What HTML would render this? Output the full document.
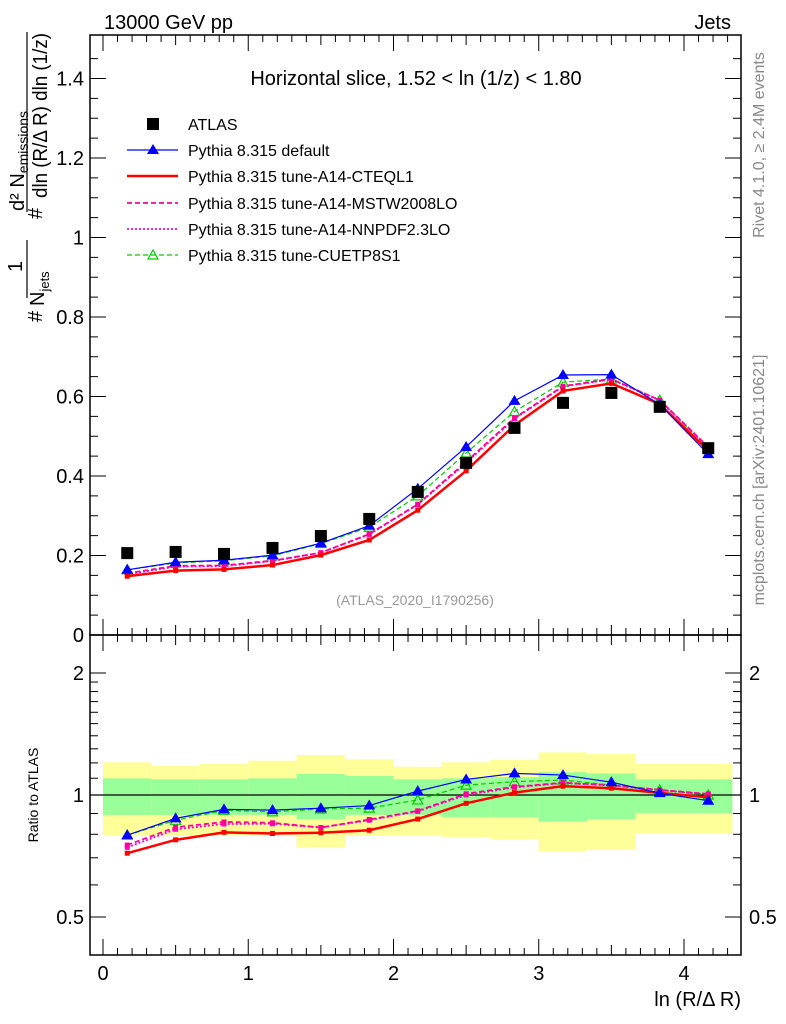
<!DOCTYPE html>
<html><head><meta charset="utf-8"><style>
body{margin:0;background:#fff;}
svg{display:block;font-family:"Liberation Sans",sans-serif;}
</style></head><body>
<svg id="c" width="786" height="1024" viewBox="0 0 786 1024">
<g id="bands"></g>
<g id="marks"></g>
<g id="axes"></g>
<text x="104" y="29" font-size="20">13000 GeV pp</text>
<text x="731" y="29" font-size="20" text-anchor="end">Jets</text>
<text x="416" y="85" font-size="20" text-anchor="middle">Horizontal slice, 1.52 &lt; ln (1/z) &lt; 1.80</text>
<text x="415" y="605" font-size="14" fill="#999" text-anchor="middle">(ATLAS_2020_I1790256)</text>
<text transform="translate(764,145) rotate(-90)" font-size="16" fill="#888" text-anchor="middle">Rivet 4.1.0, ≥ 2.4M events</text>
<text transform="translate(764,480) rotate(-90)" font-size="16" fill="#888" text-anchor="middle">mcplots.cern.ch [arXiv:2401.10621]</text>
<g>
<text transform="translate(42,322) rotate(-90)" font-size="20">#</text>
<text transform="translate(22,272) rotate(-90)" font-size="20">1</text>
<line x1="27" y1="240" x2="27" y2="298" stroke="#000" stroke-width="1.2"/>
<text transform="translate(44,306) rotate(-90)" font-size="20">N<tspan font-size="13" dy="5">jets</tspan></text>
<text transform="translate(42,219) rotate(-90)" font-size="20">#</text>
<text transform="translate(24,211) rotate(-90)" font-size="20">d² N<tspan font-size="14" dy="4">emissions</tspan></text>
<line x1="27" y1="32" x2="27" y2="212" stroke="#000" stroke-width="1.2"/>
<text transform="translate(47,198) rotate(-90)" font-size="20" textLength="165" lengthAdjust="spacingAndGlyphs">dln (R/Δ R) dln (1/z)</text>
</g>
<text transform="translate(38,795) rotate(-90)" font-size="14" text-anchor="middle">Ratio to ATLAS</text>
<text x="741" y="1006" font-size="20" text-anchor="end">ln (R/Δ R)</text>
<g id="legend"></g>
</svg>
<script>
const xCenters=[0.167,0.5,0.833,1.167,1.5,1.833,2.167,2.5,2.833,3.167,3.5,3.833,4.167];
const binEdges=[0,0.333,0.667,1,1.333,1.667,2,2.333,2.667,3,3.333,3.667,4,4.333];
const atlas=[0.206,0.209,0.204,0.219,0.249,0.292,0.36,0.433,0.521,0.584,0.609,0.574,0.47];
const pyDefault=[0.164,0.183,0.188,0.201,0.231,0.275,0.368,0.473,0.589,0.654,0.655,0.580,0.455];
const pyCteq=[0.148,0.162,0.165,0.176,0.201,0.239,0.314,0.413,0.528,0.614,0.633,0.581,0.464];
const pyMstw=[0.155,0.174,0.175,0.187,0.207,0.254,0.329,0.436,0.546,0.626,0.644,0.591,0.473];
const pyNnpdf=[0.153,0.172,0.173,0.186,0.207,0.253,0.328,0.433,0.544,0.625,0.643,0.590,0.472];
const pyCuetp=[0.164,0.181,0.187,0.199,0.230,0.271,0.350,0.458,0.562,0.636,0.644,0.591,0.470];
const yellowHi=[1.204,1.179,1.193,1.215,1.255,1.225,1.174,1.204,1.22,1.274,1.262,1.193,1.193];
const yellowLo=[0.794,0.794,0.794,0.794,0.743,0.794,0.794,0.786,0.777,0.725,0.732,0.804,0.804];
const greenHi=[1.099,1.093,1.093,1.099,1.127,1.114,1.093,1.099,1.106,1.138,1.131,1.093,1.093];
const greenLo=[0.893,0.893,0.893,0.893,0.871,0.893,0.893,0.881,0.881,0.859,0.871,0.901,0.901];
const mainTicks=[0,0.2,0.4,0.6,0.8,1,1.2,1.4];
const mainTickLabels=["0","0.2","0.4","0.6","0.8","1","1.2","1.4"];
const ratioTicks=[0.5,1,2];
const ratioTickLabels=["0.5","1","2"];
const xTicks=[0,1,2,3,4];
const xTickLabels=["0","1","2","3","4"];

const NS="http://www.w3.org/2000/svg";
const L=90,R=741,T=35,MB=635,RB=955;
const X=v=>103+v*145.25;
const Y=v=>635-v*397.5;
const YR=v=>795-Math.log2(v)*122;
function mk(tag,attrs,parent){const e=document.createElementNS(NS,tag);for(const k in attrs)e.setAttribute(k,attrs[k]);parent.appendChild(e);return e;}
const bands=document.getElementById('bands'),marks=document.getElementById('marks'),axes=document.getElementById('axes'),legend=document.getElementById('legend');

for(let i=0;i<xCenters.length;i++){
  const x0=X(binEdges[i]),x1=X(binEdges[i+1]);
  const yb=mk('rect',{x:x0,y:YR(yellowHi[i]),width:x1-x0,height:YR(yellowLo[i])-YR(yellowHi[i]),fill:'#ffff99'},bands);
  
  
  const gb=mk('rect',{x:x0,y:YR(greenHi[i]),width:x1-x0,height:YR(greenLo[i])-YR(greenHi[i]),fill:'#99ff99'},bands);
  
  
}
const one=mk('line',{x1:L,x2:R,y1:YR(1),y2:YR(1),stroke:'#000','stroke-width':1.2},bands);



const series=[
 {d:pyCuetp,c:'#00cc00',w:1.2,dash:'5,3',m:'otri',name:'Pythia 8.315 tune-CUETP8S1',id:'series-cuetp8s1'},
 {d:pyNnpdf,c:'#ff00cc',w:1.8,dash:'2,2',m:'sq',name:'Pythia 8.315 tune-A14-NNPDF2.3LO',id:'series-nnpdf'},
 {d:pyMstw,c:'#ff0099',w:1.8,dash:'5,3',m:'sq',name:'Pythia 8.315 tune-A14-MSTW2008LO',id:'series-mstw'},
 {d:pyCteq,c:'#ff0000',w:2.5,dash:'',m:'sq',name:'Pythia 8.315 tune-A14-CTEQL1',id:'series-cteql1'},
 {d:pyDefault,c:'#0000ff',w:1.2,dash:'',m:'tri',name:'Pythia 8.315 default',id:'series-default'}
];
function marker(type,x,y,c,g){
  let e;
  if(type==='tri') e=mk('polygon',{points:`${x},${y-6} ${x-6},${y+4} ${x+6},${y+4}`,fill:c},g);
  else if(type==='otri') e=mk('polygon',{points:`${x},${y-5} ${x-5},${y+4} ${x+5},${y+4}`,fill:'none',stroke:c,'stroke-width':1.2},g);
  else if(type==='big') e=mk('rect',{x:x-6,y:y-6,width:12,height:12,fill:c},g);
  else e=mk('rect',{x:x-2.5,y:y-2.5,width:5,height:5,fill:c},g);
  
  
}
for(const s of series){
  const g=mk('g',{},marks);
  
  
  const pm=s.d.map((v,i)=>X(xCenters[i])+','+Y(v)).join(' ');
  const pr=s.d.map((v,i)=>X(xCenters[i])+','+YR(v/atlas[i])).join(' ');
  for(const p of [pm,pr]){
    const l=mk('polyline',{points:p,fill:'none',stroke:s.c,'stroke-width':s.w,'stroke-dasharray':s.dash},g);
    
    
  }
  s.d.forEach((v,i)=>{marker(s.m,X(xCenters[i]),Y(v),s.c,g);marker(s.m,X(xCenters[i]),YR(v/atlas[i]),s.c,g);});
}
const ga=mk('g',{},marks);


atlas.forEach((v,i)=>marker('big',X(xCenters[i]),Y(v),'#000',ga));

for(const [t,b] of [[T,MB],[MB,RB]]){
  const f=mk('rect',{x:L,y:t,width:R-L,height:b-t,fill:'none',stroke:'#000','stroke-width':1.5},axes);
  
  
}
function tick(x1,y1,x2,y2){const e=mk('line',{x1,y1,x2,y2,stroke:'#000','stroke-width':1},axes);}
function label(x,y,txt,anchor,size,nm){const e=mk('text',{x,y,'text-anchor':anchor,'font-size':size},axes);e.textContent=txt;}
for(let v=0;v<=1.5;v+=0.05){const y=Y(v);if(y<T)break;const maj=Math.abs(v/0.2-Math.round(v/0.2))<1e-6;tick(L,y,L+(maj?16:8),y);tick(R,y,R-(maj?16:8),y);}
mainTicks.forEach((v,i)=>label(L-6,Y(v)+7,mainTickLabels[i],'end',20,'y-tick-label'));
for(let k=0.4;k<2.5;k+=(k<1-1e-9?0.1:1)){const y=YR(k);if(y<MB||y>RB)continue;const maj=ratioTicks.some(t=>Math.abs(t-k)<1e-6);tick(L,y,L+(maj?16:8),y);tick(R,y,R-(maj?16:8),y);}
for(let k=1.1;k<2;k+=0.1){const y=YR(k);tick(L,y,L+8,y);tick(R,y,R-8,y);}
ratioTicks.forEach((v,i)=>{label(L-6,YR(v)+7,ratioTickLabels[i],'end',20,'ratio-tick-label');label(R+8,YR(v)+7,ratioTickLabels[i],'start',20,'ratio-tick-label-right');});
for(let k=0;k<=44;k++){const v=k/10;const x=X(v);if(x>R)break;const maj=k%10===0;const h=maj?16:(k%5===0?10:7);tick(x,RB,x,RB-h);tick(x,MB,x,MB-h);tick(x,T,x,T+h);tick(x,MB,x,MB+h);}
xTicks.forEach((v,i)=>label(X(v),RB+25,xTickLabels[i],'middle',20,'x-tick-label'));

const ly=[124,150,176,203,229,255];
const lg0=mk('g',{},legend);


marker('big',153,ly[0],'#000',lg0);
const t0=mk('text',{x:188,y:ly[0]+6,'font-size':16},lg0);t0.textContent='ATLAS';
[...series].reverse().forEach((s,i)=>{
  const g=mk('g',{},legend);
  
  
  const y=ly[i+1];
  mk('line',{x1:127,x2:178,y1:y,y2:y,stroke:s.c,'stroke-width':s.w,'stroke-dasharray':s.dash},g);
  if(s.m!=='sq')marker(s.m,153,y,s.c,g);
  const t=mk('text',{x:188,y:y+6,'font-size':16},g);t.textContent=s.name;
});
</script>
</body></html>
